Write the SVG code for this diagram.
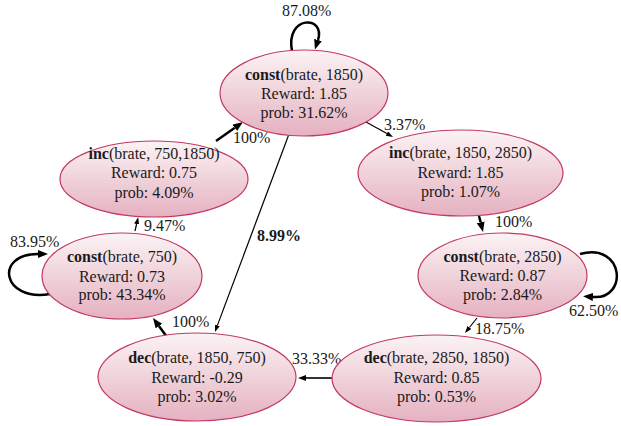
<svg xmlns="http://www.w3.org/2000/svg" width="621" height="426" viewBox="0 0 621 426">
<defs>
<linearGradient id="g" x1="0" y1="0" x2="0" y2="1">
<stop offset="0" stop-color="#fbf3f5"/>
<stop offset="1" stop-color="#e5b1c0"/>
</linearGradient>
<marker id="big" markerUnits="userSpaceOnUse" markerWidth="11" markerHeight="9" refX="0" refY="4" orient="auto">
<path d="M0,0 L10,4 L0,8 z" fill="#000"/>
</marker>
<marker id="med" markerUnits="userSpaceOnUse" markerWidth="9" markerHeight="7" refX="0" refY="3" orient="auto">
<path d="M0,0 L8,3 L0,6 z" fill="#000"/>
</marker>
<marker id="small" markerUnits="userSpaceOnUse" markerWidth="8" markerHeight="6" refX="0" refY="2.5" orient="auto">
<path d="M0,0 L7,2.5 L0,5 z" fill="#000"/>
</marker>
</defs>
<style>
.n ellipse{fill:url(#g);stroke:#c23a5f;stroke-width:1.2}
text{font-family:"Liberation Serif","Times New Roman",serif;font-size:16px;fill:#1a1a1a}
.n text{text-anchor:middle}
.b{font-weight:bold}
.e path{fill:none;stroke:#000}
.thick{stroke-width:2.5}
.thin{stroke-width:1.2}
.mid{stroke-width:1.6}
</style>
<g id="edges" class="e">
<path class="thick" d="M292,51 C285,15 326,15 318,40" marker-end="url(#big)"/>
<path class="thick" d="M216,141 L234.8,127.8" marker-end="url(#big)"/>
<path class="thin" d="M366,122 L386.9,133.6" marker-end="url(#small)"/>
<path class="thin" d="M135,231 L136.6,224" marker-end="url(#small)"/>
<path class="thick" d="M50,294 C2,302 -6,254 38,254" marker-end="url(#big)"/>
<path class="thick" d="M167,337 L158.9,326" marker-end="url(#big)"/>
<path class="thin" d="M289,134 L217.4,325.4" marker-end="url(#small)"/>
<path class="thick" d="M479,216 L480.6,222.3" marker-end="url(#big)"/>
<path class="thick" d="M580,254 C625,242 628,300 593,297" marker-end="url(#big)"/>
<path class="thin" d="M477,318 L469.4,327.5" marker-end="url(#small)"/>
<path class="mid" d="M332,378 L306,378" marker-end="url(#med)"/>
<text x="282" y="16">87.08%</text>
<text x="233" y="143">100%</text>
<text x="384" y="130">3.37%</text>
<text x="144" y="231">9.47%</text>
<text x="10" y="247">83.95%</text>
<text x="257" y="241" class="b">8.99%</text>
<text x="495" y="227">100%</text>
<text x="569" y="316">62.50%</text>
<text x="475" y="334">18.75%</text>
<text x="172" y="327">100%</text>
<text x="292" y="364">33.33%</text>
</g>
<g id="const1850" class="n">
<ellipse cx="304" cy="93" rx="84" ry="43"/>
<text x="304" y="80"><tspan class="b">const</tspan>(brate, 1850)</text>
<text x="304" y="99">Reward: 1.85</text>
<text x="304" y="118">prob: 31.62%</text>
</g>
<g id="inc750_1850" class="n">
<ellipse cx="154" cy="179" rx="94" ry="38"/>
<text x="154" y="159"><tspan class="b">inc</tspan>(brate, 750,1850)</text>
<text x="154" y="178">Reward: 0.75</text>
<text x="154" y="198">prob: 4.09%</text>
</g>
<g id="const750" class="n">
<ellipse cx="122" cy="276" rx="80" ry="43"/>
<text x="122" y="262"><tspan class="b">const</tspan>(brate, 750)</text>
<text x="122" y="282">Reward: 0.73</text>
<text x="122" y="300">prob: 43.34%</text>
</g>
<g id="inc1850_2850" class="n">
<ellipse cx="460.5" cy="173" rx="102.5" ry="43"/>
<text x="460.5" y="158"><tspan class="b">inc</tspan>(brate, 1850, 2850)</text>
<text x="460.5" y="178">Reward: 1.85</text>
<text x="460.5" y="197">prob: 1.07%</text>
</g>
<g id="const2850" class="n">
<ellipse cx="502.5" cy="275.5" rx="84.5" ry="42.5"/>
<text x="502.5" y="262"><tspan class="b">const</tspan>(brate, 2850)</text>
<text x="502.5" y="281">Reward: 0.87</text>
<text x="502.5" y="300">prob: 2.84%</text>
</g>
<g id="dec1850_750" class="n">
<ellipse cx="197" cy="377" rx="99" ry="44"/>
<text x="197" y="363"><tspan class="b">dec</tspan>(brate, 1850, 750)</text>
<text x="197" y="383">Reward: -0.29</text>
<text x="197" y="402">prob: 3.02%</text>
</g>
<g id="dec2850_1850" class="n">
<ellipse cx="436.5" cy="378.5" rx="104.5" ry="43.5"/>
<text x="436.5" y="363"><tspan class="b">dec</tspan>(brate, 2850, 1850)</text>
<text x="436.5" y="383">Reward: 0.85</text>
<text x="436.5" y="402">prob: 0.53%</text>
</g>
</svg>
